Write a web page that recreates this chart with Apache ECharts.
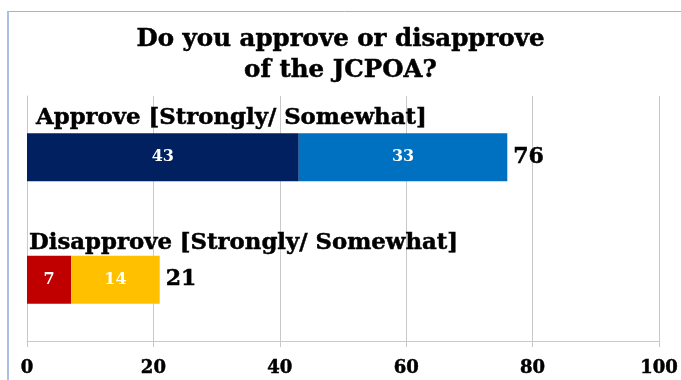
<!DOCTYPE html>
<html>
<head>
<meta charset="utf-8">
<script src="https://cdn.jsdelivr.net/npm/echarts@6/dist/echarts.min.js"></script>
<style>
  html, body { margin: 0; padding: 0; background: #ffffff; }
  #chart { width: 681px; height: 380px; }
</style>
</head>
<body>
<div id="chart"></div>
<script>
// Survey answers, percent of respondents
const categories = ['Approve [Strongly/ Somewhat]', 'Disapprove [Strongly/ Somewhat]'];
const strongly = [43, 7];
const somewhat = [33, 14];
const xTicks = [0, 20, 40, 60, 80, 100];

const totals = strongly.map((v, i) => v + somewhat[i]);

const SERIF = '"DejaVu Serif", "Liberation Serif", serif';
// heavy black serif text
const heavy = { fontFamily: SERIF, fontWeight: 'bold', color: '#000000', textBorderColor: '#000000', textBorderWidth: 0.5 };
const chart = echarts.init(document.getElementById('chart'));

chart.setOption({
  animation: false,
  backgroundColor: '#ffffff',
  title: {
    text: 'Do you approve or disapprove\nof the JCPOA?',
    left: 'center',
    top: 19,
    textStyle: Object.assign({}, heavy, { fontSize: 24.5, lineHeight: 31 })
  },
  grid: { left: 27, right: 22, top: 96, bottom: 39, containLabel: false },
  xAxis: {
    type: 'value',
    min: xTicks[0],
    max: xTicks[xTicks.length - 1],
    interval: 20,
    axisLine: { show: true, lineStyle: { color: '#c9c9c9', width: 1 } },
    axisTick: { show: true, length: 6, lineStyle: { color: '#c9c9c9' } },
    splitLine: { show: true, lineStyle: { color: '#c9c9c9', width: 1 } },
    axisLabel: Object.assign({ margin: 18, fontSize: 18 }, heavy)
  },
  yAxis: {
    type: 'category',
    data: categories,
    inverse: true,
    axisLine: { show: true, lineStyle: { color: '#c9c9c9' } },
    axisTick: { show: false },
    axisLabel: {
      inside: true,
      margin: 0,
      formatter: (v, i) => (i === 0 ? '{a|' + v + '}' : '{b|' + v + '}'),
      rich: {
        a: Object.assign({ fontSize: 22.8, padding: [0, 0, 79, 9] }, heavy),
        b: Object.assign({ fontSize: 22.8, padding: [0, 0, 73, 2] }, heavy)
      }
    }
  },
  series: [
    {
      name: 'Strongly',
      type: 'bar',
      stack: 'total',
      barWidth: 48,
      data: strongly.map((v, i) => ({
        value: v,
        itemStyle: { color: i === 0 ? '#002060' : '#c00000' }
      })),
      label: {
        show: true,
        position: 'inside',
        color: '#ffffff',
        fontFamily: SERIF,
        fontWeight: 'bold',
        fontSize: 16
      }
    },
    {
      name: 'Somewhat',
      type: 'bar',
      stack: 'total',
      barWidth: 48,
      data: somewhat.map((v, i) => ({
        value: v,
        itemStyle: { color: i === 0 ? '#0070c0' : '#ffc000' }
      })),
      label: {
        show: true,
        position: 'inside',
        color: '#ffffff',
        fontFamily: SERIF,
        fontWeight: 'bold',
        fontSize: 16
      }
    },
    {
      name: 'Total',
      type: 'scatter',
      symbolSize: 0,
      itemStyle: { opacity: 1 },
      data: totals.map((t, i) => [t, categories[i]]),
      label: Object.assign({
        show: true,
        position: 'right',
        distance: 6,
        formatter: p => String(p.value[0]),
        fontSize: 22
      }, heavy),
      silent: true
    }
  ],
  graphic: [
    {
      type: 'line',
      shape: { x1: 8, y1: 11.5, x2: 681, y2: 11.5 },
      style: { stroke: '#9db4da', lineWidth: 1 }
    },
    {
      type: 'line',
      shape: { x1: 8, y1: 11, x2: 8, y2: 380 },
      style: { stroke: '#a9c0e4', lineWidth: 2 }
    }
  ]
});
</script>
</body>
</html>
